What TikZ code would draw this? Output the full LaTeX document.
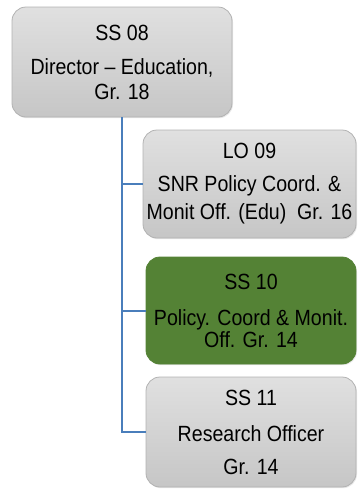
\documentclass[tikz,border=0pt]{standalone}
\usepackage{fontspec}
\setmainfont{Liberation Sans}[FakeStretch=0.89]
\usetikzlibrary{shadows}
\definecolor{boxtop}{RGB}{224,224,224}
\definecolor{boxbot}{RGB}{198,198,198}
\definecolor{boxline}{RGB}{178,178,178}
\definecolor{greenbox}{RGB}{84,130,53}
\definecolor{connblue}{RGB}{74,126,187}
\tikzset{
  orgbox/.style={rectangle, rounded corners=14pt, draw=boxline, line width=0.8pt,
    top color=boxtop, bottom color=boxbot, align=center, inner sep=0pt,
    font=\fontsize{22}{24}\selectfont, text=black,
    drop shadow={opacity=0.18, shadow xshift=1pt, shadow yshift=-1.2pt}},
  greenorg/.style={orgbox, top color=greenbox, bottom color=greenbox, draw=greenbox},
  conn/.style={draw=connblue, line width=2pt}
}
\begin{document}
\begin{tikzpicture}[x=1pt,y=-1pt]
\useasboundingbox (0,0) rectangle (357,491);
\node[orgbox, minimum width=220pt, minimum height=110pt] (ss08) at (122,62)
  {SS 08\\[10pt]Director – Education,\\[1pt]Gr. 18};
\node[orgbox, minimum width=213pt, minimum height=108pt] (lo09) at (249.5,184)
  {LO 09\\[9pt]SNR Policy Coord. \&\\[4pt]Monit Off. (Edu)\ \ Gr. 16};
\node[greenorg, minimum width=210pt, minimum height=107pt] (ss10) at (251,310.5)
  {SS 10\\[12pt]Policy. Coord \& Monit.\\[-2pt]Off. Gr. 14};
\node[orgbox, minimum width=210pt, minimum height=110pt] (ss11) at (251,432)
  {SS 11\\[12pt]Research Officer\\[9pt]Gr. 14};
\draw[conn] (ss08.south) |- (lo09.west);
\draw[conn] (ss08.south) |- (ss10.west);
\draw[conn] (ss08.south) |- (ss11.west);
\end{tikzpicture}
\end{document}
